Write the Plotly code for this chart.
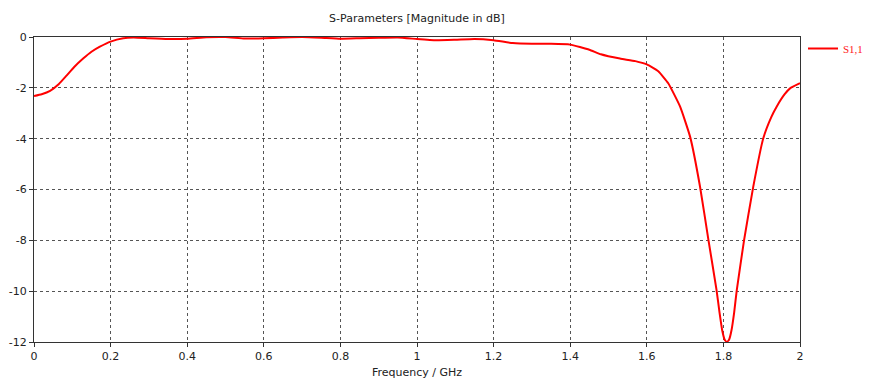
import plotly.graph_objects as go

freq_ghz = [0.000, 0.020, 0.042, 0.065, 0.085, 0.105, 0.129, 0.150, 0.172, 0.200,
            0.233, 0.260, 0.300, 0.350, 0.400, 0.450, 0.500, 0.550, 0.600, 0.650,
            0.700, 0.750, 0.800, 0.850, 0.900, 0.950, 1.000, 1.050, 1.100, 1.150,
            1.200, 1.250, 1.300, 1.350, 1.400, 1.450, 1.480, 1.530, 1.570, 1.600,
            1.630, 1.656, 1.687, 1.713, 1.739, 1.761, 1.782, 1.790, 1.797, 1.803,
            1.809, 1.815, 1.821, 1.828, 1.835, 1.854, 1.878, 1.904, 1.925, 1.939,
            1.960, 1.974, 2.000]
s11_db = [-2.32, -2.25, -2.12, -1.85, -1.52, -1.18, -0.84, -0.58, -0.38, -0.18,
          -0.05, -0.02, -0.05, -0.08, -0.07, -0.01, 0.0, -0.06, -0.05, -0.02,
          0.0, -0.03, -0.07, -0.05, -0.03, -0.02, -0.08, -0.13, -0.11, -0.08,
          -0.13, -0.24, -0.27, -0.27, -0.30, -0.50, -0.68, -0.85, -0.95, -1.08,
          -1.35, -1.82, -2.74, -3.92, -5.89, -7.99, -9.95, -10.85, -11.55, -11.9,
          -12.0, -11.9, -11.55, -10.85, -9.95, -7.99, -5.89, -3.99, -3.15, -2.74,
          -2.25, -2.02, -1.82]

x_ticks = [0, 0.2, 0.4, 0.6, 0.8, 1, 1.2, 1.4, 1.6, 1.8, 2]
x_tick_labels = ["0", "0.2", "0.4", "0.6", "0.8", "1", "1.2", "1.4", "1.6", "1.8", "2"]
y_ticks = [0, -2, -4, -6, -8, -10, -12]
y_tick_labels = ["0", "-2", "-4", "-6", "-8", "-10", "-12"]

FONT = "DejaVu Sans"
TXT = "#222222"

# page body has an 8px default margin; figure coordinates are page coordinates minus 8
W, H = 920, 371
L, R, T, B = 26, 128, 29, 37
PW = W - L - R  # plot width in px
PH = H - T - B

fig = go.Figure()
fig.add_trace(go.Scatter(
    x=freq_ghz, y=s11_db, mode="lines", name="S1,1",
    line=dict(color="#ff0000", width=2, shape="spline", smoothing=0.4),
))

axis_common = dict(
    showline=True, linecolor="#333333", linewidth=1, mirror=True,
    ticks="outside", ticklen=4, tickcolor="#333333",
    showgrid=True, gridcolor="#555555", gridwidth=1, griddash="dot",
    zeroline=False, automargin=False,
    tickfont=dict(family=FONT, size=11, color=TXT),
)

fig.update_xaxes(range=[0, 2], tickvals=x_ticks, ticktext=x_tick_labels,
                 title=dict(text="Frequency / GHz", font=dict(family=FONT, size=11, color=TXT), standoff=6),
                 **axis_common)
fig.update_yaxes(range=[-12, 0], tickvals=y_ticks, ticktext=y_tick_labels, **axis_common)

fig.update_layout(
    width=W, height=H,
    margin=dict(l=L, r=R, t=T, b=B),
    paper_bgcolor="white", plot_bgcolor="white",
    title=dict(text="S-Parameters [Magnitude in dB]", x=(417 - 8) / W, xanchor="center",
               y=1 - 10 / H, yanchor="middle",
               font=dict(family=FONT, size=11, color=TXT)),
    showlegend=True,
    legend=dict(x=1 + (795 - (L + PW)) / PW, xanchor="left",
                y=1 + 3 / PH, yanchor="top",
                font=dict(family="Liberation Serif", size=11, color="#ff2020"),
                bgcolor="rgba(0,0,0,0)", itemwidth=30,
                tracegroupgap=0),
)

fig.write_html("out.html")
